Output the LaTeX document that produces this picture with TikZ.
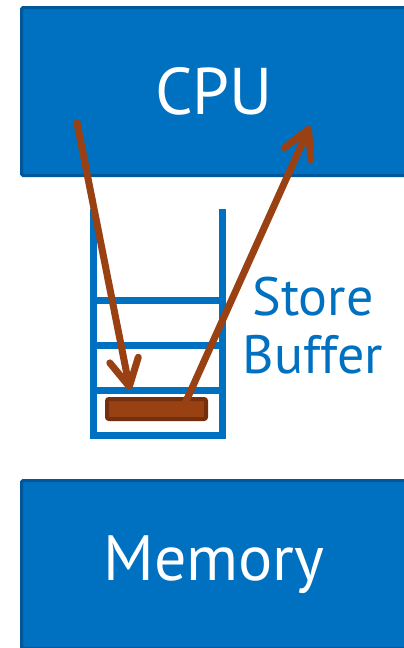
\documentclass[tikz,border=0pt]{standalone}
\usepackage{fontspec}
\setmainfont{PT Sans}
\usetikzlibrary{arrows.meta, positioning}

\definecolor{unitblue}{HTML}{0070C0}
\definecolor{unitedge}{HTML}{00579A}
\definecolor{rust}{HTML}{9A4114}
\definecolor{rustedge}{HTML}{74300E}

\begin{document}
\begin{tikzpicture}[x=1pt, y=-1pt,
      unit/.style={draw=unitedge, fill=unitblue, line width=3pt, rounded corners=1.5pt,
                   minimum width=385pt, minimum height=168pt, text=white,
                   font=\fontsize{66}{70}\selectfont, inner sep=0pt},
      slot/.style={draw=unitblue, line width=7pt},
      entry/.style={draw=rustedge, fill=rust, line width=4pt, rounded corners=2pt,
                    minimum width=99pt, minimum height=20pt, inner sep=0pt},
      lbl/.style={text=unitblue, align=center, inner sep=0pt,
                  font=\fontsize{54}{58}\selectfont},
      flow/.style={draw=rust, line width=7pt, line cap=round,
                   -{Straight Barb[length=27pt, width=29pt, line cap=round, round]}}]

    \useasboundingbox (0,0) rectangle (404,648);

    \def\bl{93}   % buffer left
    \def\br{222}  % buffer right
    \def\bt{209}  % buffer top

    % ===== CPU and Memory =====
    \node[unit] (cpu) at (214,91.5) {CPU};
    \node[unit, font=\fontsize{64}{70}\selectfont] (mem) at (214,564.5) {Memory};

    % ===== Store buffer =====
    \draw[slot, line join=miter] (\bl,\bt) -- (\bl,435) -- (\br,435) -- (\br,\bt);
    \foreach \y in {300, 345, 390} {
        \draw[slot] (\bl,\y) -- (\br,\y);
    }
    \node[entry] (entry) at (156.5,409) {};
    \node[lbl, anchor=north] (sblabel) at (313,277) {Store\\Buffer};

    % ===== Store goes in, load comes out =====
    \coordinate (cpuout) at (77,123);
    \coordinate (slotin) at (130,390);
    \coordinate (entryout) at (183,408);
    \coordinate (cpuin) at (310,126);
    \draw[flow] (cpuout) -- (slotin);
    \draw[flow] (entryout) -- (cpuin);

\end{tikzpicture}
\end{document}
